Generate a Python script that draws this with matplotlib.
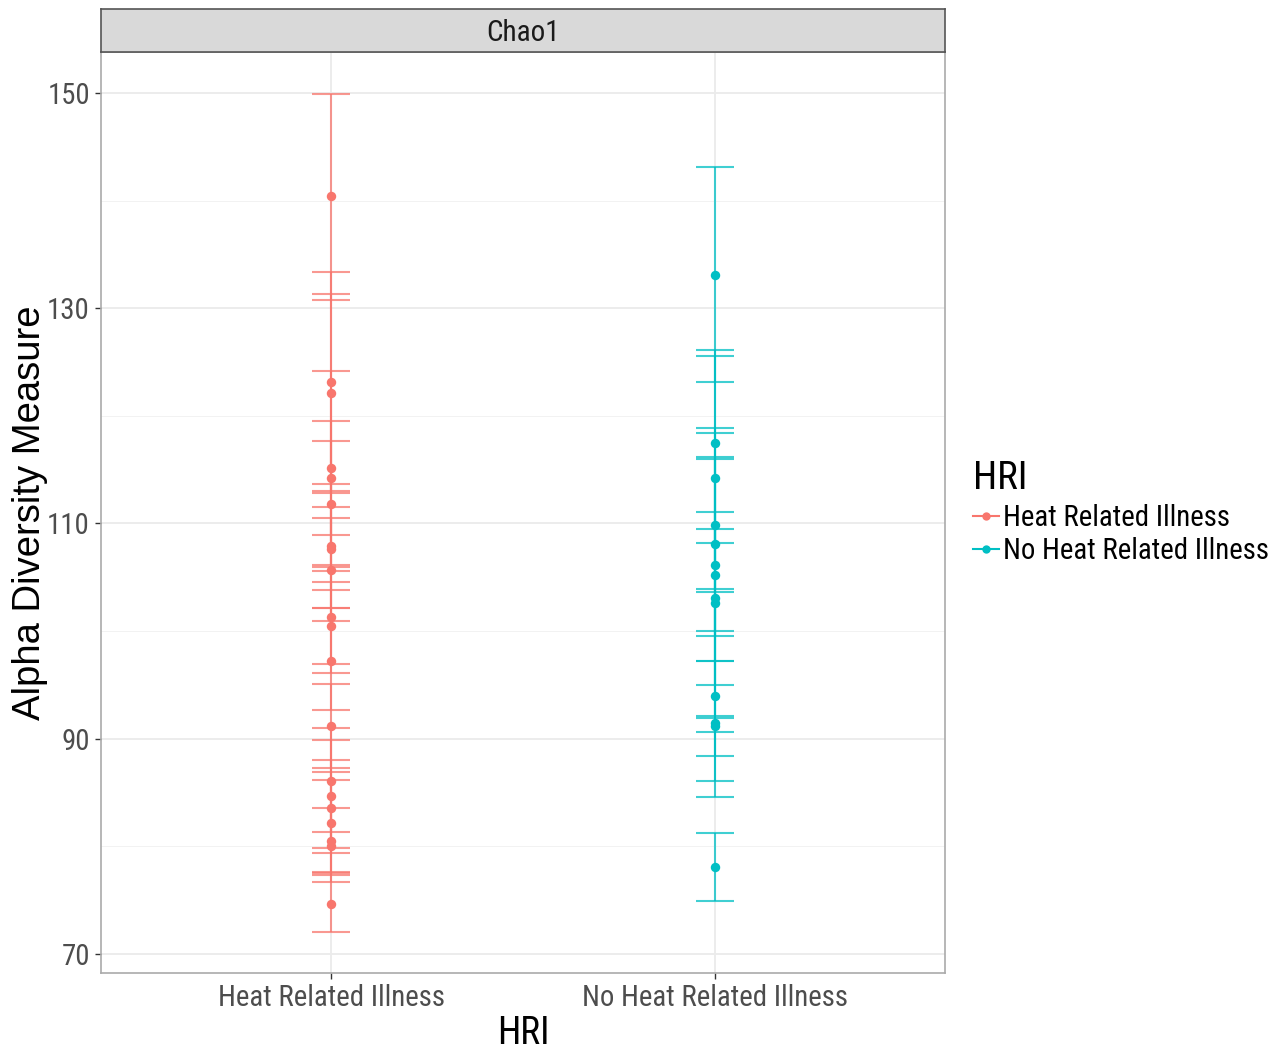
import numpy as np
import matplotlib
matplotlib.use("Agg")
import matplotlib.pyplot as plt
from matplotlib.lines import Line2D

# Chao1 estimates with lower / upper error bar ends, per sample
groups = ["Heat Related Illness", "No Heat Related Illness"]
colors = ["#F8766D", "#00BFC4"]

hri_chao1 = [140.4, 123.1, 122.1, 115.2, 114.2, 111.8, 107.9, 107.6, 105.7, 101.3,
             100.5, 97.2, 91.2, 86.1, 84.7, 83.6, 82.2, 80.5, 80.0, 74.6]
hri_low = [130.8, 113.0, 112.8, 106.1, 108.9, 106.0, 102.1, 103.85, 100.9, 96.9,
           96.1, 92.7, 87.3, 81.3, 79.8, 79.4, 77.6, 77.3, 76.7, 72.0]
hri_high = [149.9, 133.4, 131.35, 124.2, 119.5, 117.7, 113.7, 111.5, 110.5, 105.6,
            104.6, 102.1, 95.05, 91.0, 89.85, 88.0, 86.9, 86.2, 83.6, 77.5]

nohri_chao1 = [133.06, 117.45, 114.2, 109.9, 108.07, 106.1, 105.25, 103.1, 102.6,
               93.97, 91.45, 91.2, 78.1]
nohri_low = [123.1, 108.2, 103.9, 100.0, 99.55, 97.25, 95.0, 92.1, 91.9,
             84.6, 86.05, 88.4, 74.9]
nohri_high = [143.1, 126.1, 125.55, 118.9, 118.4, 116.2, 116.0, 111.1, 109.5,
              103.6, 97.25, 90.65, 81.2]

yticks = [70, 90, 110, 130, 150]
yminor = [80, 100, 120, 140]

narrow = ["Roboto Condensed", "Archivo Narrow", "DejaVu Sans"]
plain = ["Liberation Sans", "DejaVu Sans"]

fig = plt.figure(figsize=(12.84, 10.51), dpi=100)
W, H = 1284, 1051
ax = fig.add_axes([101 / W, 1 - 973 / H, 844 / W, 921 / H])

data = [(hri_chao1, hri_low, hri_high), (nohri_chao1, nohri_low, nohri_high)]
for i, (vals, lo, hi) in enumerate(data):
    x = i + 1
    n = len(vals)
    ax.vlines(np.full(n, x), lo, hi, color=colors[i], alpha=0.75, lw=1.5, zorder=3)
    ax.hlines(lo, x - 0.05, x + 0.05, color=colors[i], alpha=0.75, lw=1.5, zorder=3)
    ax.hlines(hi, x - 0.05, x + 0.05, color=colors[i], alpha=0.75, lw=1.5, zorder=3)
    ax.plot(np.full(n, x), vals, "o", color=colors[i], ms=6.8, mec="none", zorder=4)

ax.set_xlim(0.4, 2.6)
ax.set_ylim(68.23, 153.81)
ax.set_xticks([1, 2])
ax.set_xticklabels(groups, family=narrow, fontsize=20.7, color="#4D4D4D")
ax.set_yticks(yticks)
ax.set_yticklabels([str(t) for t in yticks], family=narrow, fontsize=20.7, color="#4D4D4D")
ax.set_yticks(yminor, minor=True)
ax.grid(True, which="major", color="#EBEBEB", lw=1.3, zorder=0)
ax.grid(True, which="minor", axis="y", color="#F2F2F2", lw=0.7, zorder=0)
ax.set_axisbelow(True)
ax.tick_params(which="major", length=4, color="#333333", width=1, pad=4)
ax.tick_params(which="minor", length=0)
for s in ax.spines.values():
    s.set_color("#AAAAAA")
    s.set_linewidth(1.2)

ax.set_ylabel("Alpha Diversity Measure", family=plain, fontsize=27.5, va="center")
ax.yaxis.set_label_coords((30 - 101) / 844, 0.5)
ax.set_xlabel("HRI", family=narrow, fontsize=27, labelpad=2)

# facet strip
strip = fig.add_axes([101 / W, 1 - 52 / H, 844 / W, 43 / H])
strip.set_facecolor("#D9D9D9")
strip.set_xticks([])
strip.set_yticks([])
for s in strip.spines.values():
    s.set_color("#555555")
    s.set_linewidth(1.2)
strip.text(0.5, 0.44, "Chao1", ha="center", va="center", family=narrow, fontsize=21,
           color="#1A1A1A", transform=strip.transAxes)

handles = [Line2D([0], [0], color=c, marker="o", ms=6, lw=1.5, mec="none") for c in colors]
leg = fig.legend(handles, groups, title="HRI", loc="upper left",
                 bbox_to_anchor=(947 / W, 1 - 434 / H), frameon=False,
                 prop={"family": narrow, "size": 20.7}, handlelength=0.9,
                 handletextpad=0.15, labelspacing=0.18)
leg.get_title().set_fontfamily(narrow)
leg.get_title().set_fontsize(28)
leg._legend_box.align = "left"
leg._legend_box.sep = 5

fig.savefig("out.png", dpi=100)
